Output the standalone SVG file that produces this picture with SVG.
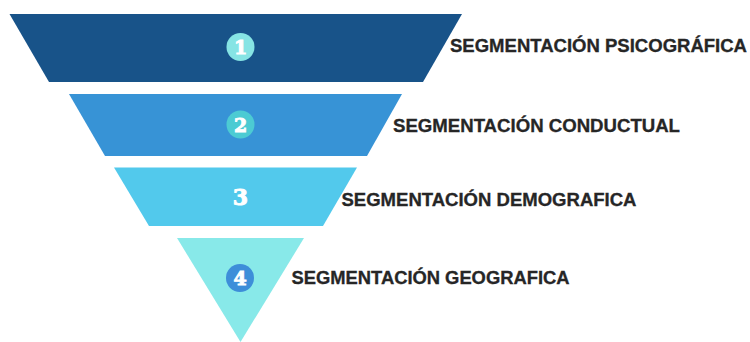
<svg xmlns="http://www.w3.org/2000/svg" width="750" height="342" viewBox="0 0 750 342">
  <style>
    .label { font-family: "Liberation Sans", Arial, sans-serif; font-weight: bold; font-size: 17.5px; fill: #262626; stroke: #262626; stroke-width: 0.3px; }
    .num { font-family: "DejaVu Serif", "Liberation Serif", serif; font-weight: bold; fill: #ffffff; stroke: #ffffff; stroke-width: 0.9px; text-anchor: middle; }
  </style>
  <rect width="750" height="342" fill="#ffffff"/>

  <!-- funnel level 1 -->
  <g id="level1">
    <polygon points="9.5,14 462,14 423,82 49,82" fill="#185389"/>
    <circle cx="240.5" cy="47" r="14" fill="#86e4e4"/>
    <text class="num" x="240.5" y="54" font-size="19">1</text>
    <text class="label" x="450" y="51.5" textLength="297" lengthAdjust="spacingAndGlyphs">SEGMENTACIÓN PSICOGRÁFICA</text>
  </g>

  <!-- funnel level 2 -->
  <g id="level2">
    <polygon points="69,94 402,94 367,156 105,156" fill="#3793d6"/>
    <circle cx="240.5" cy="124.5" r="14" fill="#4ccbd3"/>
    <text class="num" x="240.5" y="131.5" font-size="19">2</text>
    <text class="label" x="393" y="131.5" textLength="287" lengthAdjust="spacingAndGlyphs">SEGMENTACIÓN CONDUCTUAL</text>
  </g>

  <!-- funnel level 3 -->
  <g id="level3">
    <polygon points="114,167.5 357,167.5 323,226 149,226" fill="#52c9ec"/>
    <text class="num" x="240.5" y="204.5" font-size="22">3</text>
    <text class="label" x="341.5" y="206" textLength="295" lengthAdjust="spacingAndGlyphs">SEGMENTACIÓN DEMOGRAFICA</text>
  </g>

  <!-- funnel level 4 -->
  <g id="level4">
    <polygon points="177,238 304,238 240.5,342" fill="#88e9e9"/>
    <circle cx="240" cy="278" r="14" fill="#3d8ed9"/>
    <text class="num" x="240" y="285" font-size="19">4</text>
    <text class="label" x="291.5" y="284" textLength="278" lengthAdjust="spacingAndGlyphs">SEGMENTACIÓN GEOGRAFICA</text>
  </g>

  <g id="connectors"></g>
</svg>
